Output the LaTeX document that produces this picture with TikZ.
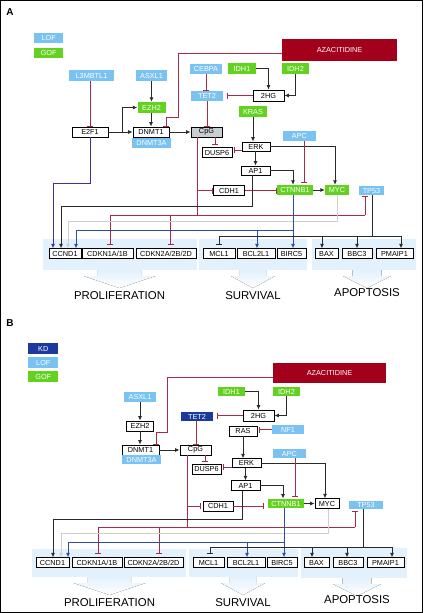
\documentclass[tikz,border=0pt]{standalone}
\usepackage{fontspec}
\setmainfont{Liberation Sans}
\usetikzlibrary{arrows.meta}
\definecolor{lofc}{HTML}{79C2F2}
\definecolor{gofc}{HTML}{63D11F}
\definecolor{kdc}{HTML}{1C3A9E}
\definecolor{azac}{HTML}{A3001C}
\definecolor{redc}{HTML}{A82A45}
\definecolor{bluec}{HTML}{2C4BAA}
\definecolor{purpc}{HTML}{4B2C9C}
\definecolor{grayc}{HTML}{CFCFCF}
\definecolor{dkc}{HTML}{2A2A2A}
\definecolor{panelc}{HTML}{E3F1FC}
\definecolor{cpgc}{HTML}{C9CED3}
\tikzset{
  base/.style={inner sep=0pt, font=\fontsize{7.3}{8}\selectfont, align=center},
  box/.style={base, draw=black, line width=0.9pt, fill=white},
  lof/.style={base, fill=lofc, text=white},
  gof/.style={base, fill=gofc, text=white},
  kd/.style={base, fill=kdc, text=white},
  aza/.style={base, fill=azac, text=white, font=\fontsize{7.3}{8}\selectfont},
  mw/.style={minimum width=#1pt},
  mh/.style={minimum height=#1pt},
  act/.style={draw=dkc, line width=0.95pt, -{Latex[length=4.5pt,width=4.2pt]}},
  inh/.style={draw=redc, line width=1pt, -{Bar[width=6pt]}},
  rl/.style={draw=redc, line width=1pt},
  kl/.style={draw=dkc, line width=0.95pt},
  inhk/.style={draw=dkc, line width=0.95pt, -{Bar[width=6pt]}},
  big/.style={font=\fontsize{11.4}{13}\selectfont},
  plabel/.style={font=\bfseries\fontsize{10}{12}\selectfont},
}
\newcommand\bkarrow[3]{%
  \fill[top color=panelc, bottom color=white] (#1-#3*0.6,#2) -- (#1+#3*0.6,#2) -- (#1+#3*0.6,#2+6) -- (#1+#3,#2+6) -- (#1,#2+18) -- (#1-#3,#2+6) -- (#1-#3*0.6,#2+6) -- cycle;}
\begin{document}
\begin{tikzpicture}[x=1pt,y=-1pt]
\useasboundingbox (0,0) rectangle (423,613);
\fill[white] (0,0) rectangle (423,613);
% ================= PANEL A =================
\fill[panelc] (43,239) rectangle (197,270);
\fill[panelc] (199,239) rectangle (307,270);
\fill[panelc] (312,239) rectangle (416,270);
\bkarrow{119.5}{270}{36}
\bkarrow{253}{270}{22}
\bkarrow{367}{270}{24}
\node[plabel] (labA) at (10,12.5) {A};
\node[lof,mw=29,mh=10] (lofA) at (48.7,38.3) {LOF};
\node[gof,mw=29,mh=10] (gofA) at (48.7,52.5) {GOF};
\node[lof,mw=45,mh=11] (L3MBTL1) at (91.5,75.5) {L3MBTL1};
\node[lof,mw=31,mh=11] (ASXL1) at (151.5,75.5) {ASXL1};
\node[gof,mw=28,mh=11] (EZH2) at (151.5,107.5) {EZH2};
\node[box,mw=36,mh=10] (E2F1) at (90,132) {E2F1};
\node[box,mw=36,mh=10] (DNMT1) at (151,132) {DNMT1};
\node[lof,mw=39,mh=10] (DNMT3A) at (151.5,143) {DNMT3A};
\node[box,fill=cpgc,mw=31,mh=10] (CpG) at (206.5,132) {CpG};
\node[lof,mw=32,mh=10] (CEBPA) at (206,69) {CEBPA};
\node[lof,mw=32,mh=10] (TET2) at (207,96) {TET2};
\node[aza,mw=115,mh=22] (AZA) at (339.5,50) {AZACITIDINE};
\node[gof,mw=28,mh=11] (IDH1) at (242,68.5) {IDH1};
\node[gof,mw=27,mh=11] (IDH2) at (295.5,68.5) {IDH2};
\node[box,mw=31,mh=11] (hgA) at (268.5,95.5) {2HG};
\node[gof,mw=28,mh=11] (KRAS) at (253,111.5) {KRAS};
\node[lof,mw=33,mh=10] (APC) at (299.5,136) {APC};
\node[box,mw=28,mh=9] (ERK) at (256,146.5) {ERK};
\node[box,mw=30,mh=9.5] (DUSP6) at (217,152.5) {DUSP6};
\node[box,mw=29,mh=9] (AP1) at (255.5,170.5) {AP1};
\node[box,mw=31,mh=10] (CDH1) at (229,190.5) {CDH1};
\node[gof,mw=36,mh=10] (CTNNB1) at (295,190) {CTNNB1};
\node[gof,mw=24,mh=10] (MYC) at (337,190) {MYC};
\node[lof,mw=25,mh=9] (TP53) at (371.5,190.5) {TP53};
\node[box,mw=32,mh=9.5] (CCND1) at (65,253.5) {CCND1};
\node[box,mw=51,mh=9.5] (CDKN1) at (107.5,253.5) {CDKN1A/1B};
\node[box,mw=60,mh=9.5] (CDKN2) at (166,253.5) {CDKN2A/2B/2D};
\node[box,mw=32,mh=9.5] (MCL1) at (219,253.5) {MCL1};
\node[box,mw=38,mh=9.5] (BCL2L1) at (256,253.5) {BCL2L1};
\node[box,mw=29,mh=9.5] (BIRC5) at (291.5,253.5) {BIRC5};
\node[box,mw=23,mh=9.5] (BAX) at (326.5,253.5) {BAX};
\node[box,mw=30,mh=9.5] (BBC3) at (357,253.5) {BBC3};
\node[box,mw=37,mh=9.5] (PMAIP1) at (394.5,253.5) {PMAIP1};
\node[big] (prolA) at (119.5,296) {PROLIFERATION};
\node[big] (survA) at (253,296) {SURVIVAL};
\node[big] (apopA) at (367,293) {APOPTOSIS};
% connectors A
\draw[inh] (L3MBTL1.south -| E2F1.north) -- (E2F1.north);
\draw[act, draw=purpc] (E2F1.south) |- (53,183) -- (53,0 |- CCND1.north);
\draw[act] (E2F1.east) -- (DNMT1.west);
\draw[act] (122,0 |- E2F1.east) |- (EZH2.west);
\draw[act] (ASXL1.south) -- (EZH2.north);
\draw[act] (EZH2.south -| DNMT1.north) -- (DNMT1.north);
\draw[act] (DNMT1.east) -- (CpG.west);
\draw[inh] (AZA.west |- 0,53) -| (178,117) -| (166,0 |- DNMT1.north);
\draw[inh] (CEBPA.south) -- (CEBPA.south |- TET2.north);
\draw[inh] (TET2.south) -- (TET2.south |- CpG.north);
\draw[inh, shorten >=3.5pt] (hgA.west) -- (hgA.west -| TET2.east);
\draw[act] (IDH1.east) -| (hgA.north);
\draw[act] (IDH2.south) |- (hgA.east);
\draw[act] (KRAS.south) -- (KRAS.south |- ERK.north);
\draw[inh, shorten >=2pt] (215,0 |- CpG.south) -- (215,0 |- DUSP6.north);
\draw[inh, shorten >=1.5pt] (ERK.west |- 0,150) -- (DUSP6.east |- 0,150);
\draw[act] (ERK.south -| AP1.north) -- (AP1.north);
\draw[act] (ERK.east) -| (335,0 |- MYC.north);
\draw[act] (AP1.east) -| (293,0 |- CTNNB1.north);
\draw[inh, shorten >=1.5pt] (304,0 |- APC.south) -- (304,0 |- CTNNB1.north);
\draw[act] (CTNNB1.east) -- (MYC.west);
\draw[inh] (CDH1.east) -- (CDH1.east -| CTNNB1.west);
\coordinate (rA) at (197,215);
\draw[rl] (197,0 |- CpG.south) -- (rA);
\draw[inh] (197,0 |- CDH1.west) -- (CDH1.west);
\draw[act] (252,0 |- AP1.south) |- (61,206) -- (61,0 |- CCND1.north);
\draw[rl] (110,215) -- (365,215);
\draw[inh, shorten >=3pt] (110,215) -- (110,0 |- CDKN1.north);
\draw[inh, shorten >=3pt] (170.7,215) -- (170.7,0 |- CDKN2.north);
\draw[inh, shorten >=1pt] (365,215) -- (365,0 |- TP53.south);
\draw[act, draw=grayc] (337,0 |- MYC.south) |- (68,221) -- (68,0 |- CCND1.north);
\draw[act, draw=bluec] (293,0 |- CTNNB1.south) -- (293,0 |- BIRC5.north);
\draw[act, draw=bluec] (293,230) -| (76,0 |- CCND1.north);
\draw[act, draw=bluec] (257,230) -- (257,0 |- BCL2L1.north);
\draw[kl] (372,0 |- TP53.south) -- (372,236);
\draw[kl] (219,236) -- (401,236);
\draw[inhk, shorten >=3pt] (219,236) -- (219,0 |- MCL1.north);
\draw[act] (322,236) -- (322,0 |- BAX.north);
\draw[act] (357,236) -- (357,0 |- BBC3.north);
\draw[act] (401,236) -- (401,0 |- PMAIP1.north);
% ================= PANEL B =================
\fill[panelc] (32,549) rectangle (186,577);
\fill[panelc] (189,549) rectangle (298,577);
\fill[panelc] (301,548) rectangle (407,578);
\bkarrow{109.5}{577}{36}
\bkarrow{243}{577}{22}
\bkarrow{357}{578}{24}
\node[plabel] (labB) at (10,323) {B};
\node[kd,mw=30,mh=11] (kdB) at (43.3,348.5) {KD};
\node[lof,mw=30,mh=11] (lofB) at (43.3,362.5) {LOF};
\node[gof,mw=30,mh=11] (gofB) at (43.3,376.5) {GOF};
\node[lof,mw=32,mh=10] (ASXL1b) at (140,397) {ASXL1};
\node[box,mw=27,mh=10] (EZH2b) at (140,426) {EZH2};
\node[box,mw=37,mh=10] (DNMT1b) at (140.5,450) {DNMT1};
\node[lof,mw=39,mh=9] (DNMT3Ab) at (141.5,459.5) {DNMT3A};
\node[box,mw=31,mh=10] (CpGb) at (195.5,450) {CpG};
\node[kd,mw=32,mh=9.5] (TET2b) at (197,416.5) {TET2};
\node[aza,mw=113,mh=20] (AZAb) at (329.5,373) {AZACITIDINE};
\node[gof,mw=27,mh=9.5] (IDH1b) at (231.5,391.5) {IDH1};
\node[gof,mw=27,mh=9.5] (IDH2b) at (286.5,391.5) {IDH2};
\node[box,mw=31,mh=11] (hgB) at (258.5,415.5) {2HG};
\node[box,mw=28,mh=10] (RASb) at (243,431) {RAS};
\node[lof,mw=32,mh=9.5] (NF1b) at (288,429.5) {NF1};
\node[lof,mw=33,mh=9.5] (APCb) at (289.5,453.5) {APC};
\node[box,mw=29,mh=8.5] (ERKb) at (246.5,463) {ERK};
\node[box,mw=29,mh=10] (DUSP6b) at (206.5,469) {DUSP6};
\node[box,mw=29,mh=9.5] (AP1b) at (245.5,485.5) {AP1};
\node[box,mw=30,mh=10] (CDH1b) at (218,506) {CDH1};
\node[gof,mw=36,mh=9.5] (CTNNB1b) at (286,503.5) {CTNNB1};
\node[box,mw=24,mh=9.5] (MYCb) at (327,503.5) {MYC};
\node[lof,mw=34,mh=8] (TP53b) at (366,505) {TP53};
\node[box,mw=33,mh=9.5] (CCND1b) at (52.5,562.5) {CCND1};
\node[box,mw=50,mh=9.5] (CDKN1b) at (97,562.5) {CDKN1A/1B};
\node[box,mw=59,mh=9.5] (CDKN2b) at (153.5,562.5) {CDKN2A/2B/2D};
\node[box,mw=31,mh=9.5] (MCL1b) at (208.5,562.5) {MCL1};
\node[box,mw=38,mh=9.5] (BCL2L1b) at (246,562.5) {BCL2L1};
\node[box,mw=30,mh=9.5] (BIRC5b) at (282,562.5) {BIRC5};
\node[box,mw=25,mh=9.5] (BAXb) at (316.5,562.5) {BAX};
\node[box,mw=30,mh=9.5] (BBC3b) at (348,562.5) {BBC3};
\node[box,mw=37,mh=9.5] (PMAIP1b) at (385.5,562.5) {PMAIP1};
\node[big] (prolB) at (109.5,602.7) {PROLIFERATION};
\node[big] (survB) at (243,602.7) {SURVIVAL};
\node[big] (apopB) at (357,600) {APOPTOSIS};
% connectors B
\draw[act] (ASXL1b.south) -- (ASXL1b.south |- EZH2b.north);
\draw[act] (EZH2b.south) -- (EZH2b.south |- DNMT1b.north);
\draw[act] (DNMT1b.east) -- (CpGb.west);
\draw[inh] (AZAb.west |- 0,377) -| (167,432) -| (156,0 |- DNMT1b.north);
\draw[inh] (196,0 |- TET2b.south) -- (196,0 |- CpGb.north);
\draw[inh, shorten >=3.5pt] (hgB.west) -- (hgB.west -| TET2b.east);
\draw[act] (IDH1b.east) -| (hgB.north);
\draw[act] (IDH2b.south) |- (hgB.east);
\draw[inh, shorten >=2pt] (NF1b.west) -- (NF1b.west -| RASb.east);
\draw[act] (RASb.south) -- (RASb.south |- ERKb.north);
\draw[inh, shorten >=1.5pt] (205,0 |- CpGb.south) -- (205,0 |- DUSP6b.north);
\draw[inh, shorten >=1.5pt] (ERKb.west |- 0,467) -- (DUSP6b.east |- 0,467);
\draw[act] (ERKb.south -| AP1b.north) -- (AP1b.north);
\draw[act] (ERKb.east) -| (325,0 |- MYCb.north);
\draw[act] (AP1b.east) -| (283,0 |- CTNNB1b.north);
\draw[inh, shorten >=1.5pt] (295,0 |- APCb.south) -- (295,0 |- CTNNB1b.north);
\draw[act] (CTNNB1b.east) -- (MYCb.west);
\draw[inh, shorten >=3.5pt] (CDH1b.east) -- (CDH1b.east -| CTNNB1b.west);
\coordinate (rB) at (187,527);
\draw[rl] (187,0 |- CpGb.south) -- (rB);
\draw[inh, shorten >=1.5pt] (187,0 |- CDH1b.west) -- (CDH1b.west);
\draw[act] (242,0 |- AP1b.south) |- (53,519) -- (53,0 |- CCND1b.north);
\draw[rl] (98,527) -- (355,527);
\draw[inh, shorten >=3pt] (98,527) -- (98,0 |- CDKN1b.north);
\draw[inh, shorten >=3pt] (159,527) -- (159,0 |- CDKN2b.north);
\draw[inh, shorten >=2pt] (355,527) -- (355,0 |- TP53b.south);
\draw[act, draw=grayc] (328,0 |- MYCb.south) |- (61,533) -- (61,0 |- CCND1b.north);
\draw[act, draw=bluec] (284,0 |- CTNNB1b.south) -- (284,0 |- BIRC5b.north);
\draw[act, draw=bluec] (284,542) -| (68,0 |- CCND1b.north);
\draw[act, draw=bluec] (247,542) -- (247,0 |- BCL2L1b.north);
\draw[kl] (363,0 |- TP53b.south) -- (363,547);
\draw[kl] (210,547) -- (392,547);
\draw[inhk, shorten >=3pt] (210,547) -- (210,0 |- MCL1b.north);
\draw[act] (312,547) -- (312,0 |- BAXb.north);
\draw[act] (347,547) -- (347,0 |- BBC3b.north);
\draw[act] (392,547) -- (392,0 |- PMAIP1b.north);
% frame
\draw[line width=1.2pt] (0.6,0.6) rectangle (422.4,612.4);
\end{tikzpicture}
\end{document}
